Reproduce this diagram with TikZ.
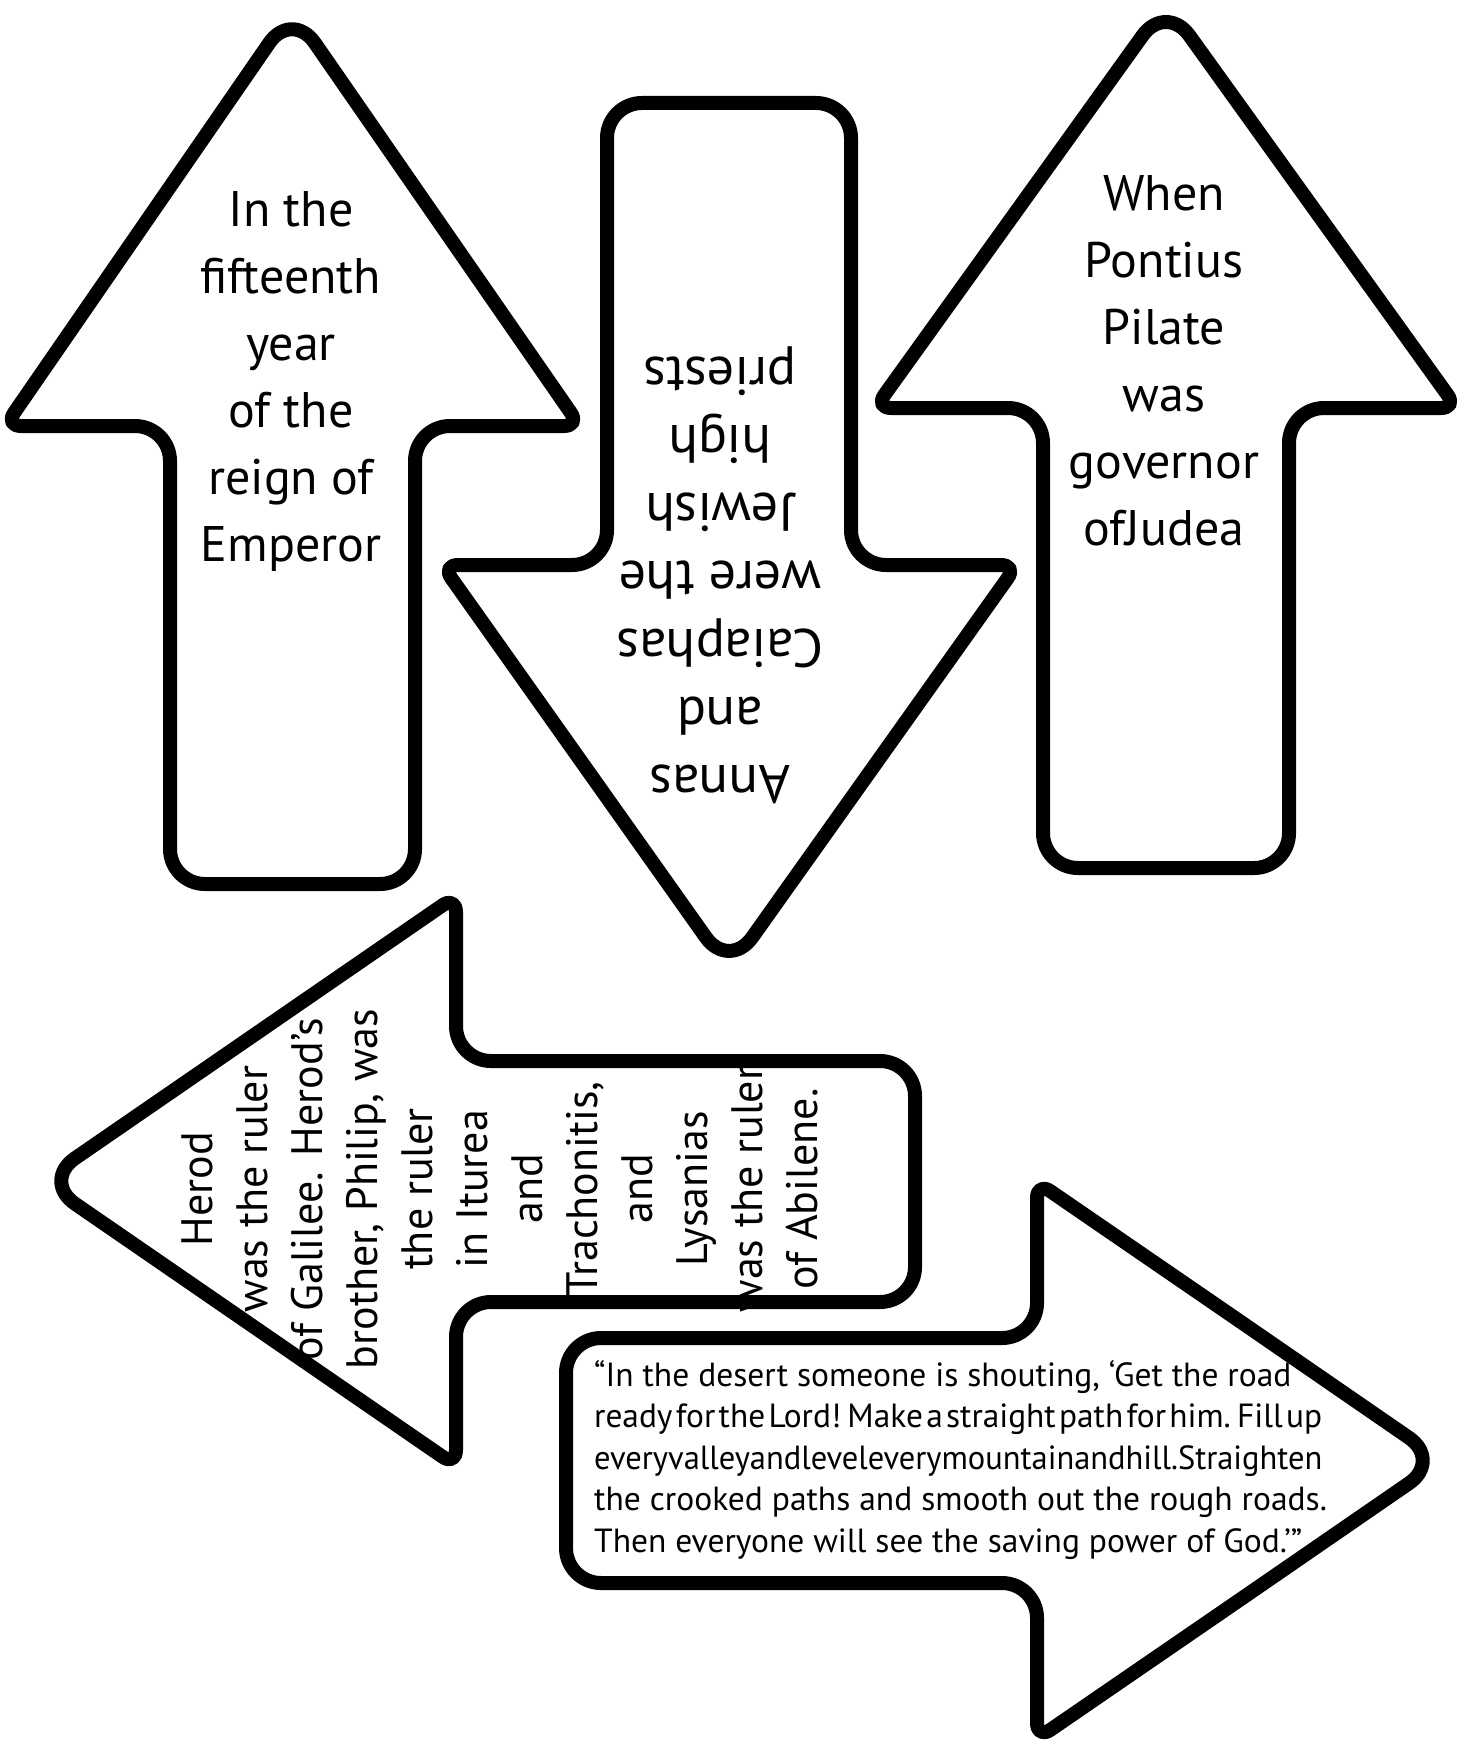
\documentclass[tikz,border=0pt]{standalone}
\usepackage{fontspec}
\setmainfont{PT Sans}
\usepackage{graphicx}
\newcommand\squeezeline[2]{\resizebox{728pt}{\height}{\spaceskip=#1\relax #2}}

\begin{document}
\begin{tikzpicture}[
      x=1pt, y=-1pt,
      every node/.append style={inner sep=0pt},
      arrowbody/.style={draw, line width=14pt, fill=white, line join=round},
      bigtext/.style={align=center, font=\fontsize{50}{67}\selectfont},
      midtext/.style={align=center, font=\fontsize{44}{55}\selectfont},
      quotetext/.style={align=left, font=\fontsize{33.5}{41.5}\selectfont},
    ]
      \useasboundingbox (0,0) rectangle (1463,1742);

      \draw[arrowbody] (292,884) [rounded corners=35] -- (170,884) -- (170,426) -- (88,426)
        [rounded corners=16] -- (5,426) -- (148.5,218) [rounded corners=40] -- (292,10)
        -- (436,218) [rounded corners=16] -- (580,426) -- (497.5,426)
        [rounded corners=35] -- (415,426) -- (415,884) -- cycle;

      \draw[arrowbody] (729,103) [rounded corners=35] -- (851,103) -- (851,565) -- (934,565)
        [rounded corners=16] -- (1017,565) -- (873,767.5) [rounded corners=40] -- (729,970)
        -- (585.5,767.5) [rounded corners=16] -- (442,565) -- (524.5,565)
        [rounded corners=35] -- (607,565) -- (607,103) -- cycle;

      \draw[arrowbody] (1166,868) [rounded corners=35] -- (1043,868) -- (1043,408) -- (959,408)
        [rounded corners=16] -- (875,408) -- (1020.5,205.5) [rounded corners=40] -- (1166,3)
        -- (1311.5,205.5) [rounded corners=16] -- (1457,408) -- (1373,408)
        [rounded corners=35] -- (1289,408) -- (1289,868) -- cycle;

      \draw[arrowbody] (915,1181) [rounded corners=35] -- (915,1061) -- (456,1061) -- (456,978.5)
        [rounded corners=16] -- (456,896) -- (249,1038.5) [rounded corners=40] -- (42,1181)
        -- (249,1323.5) [rounded corners=16] -- (456,1466) -- (456,1384)
        [rounded corners=35] -- (456,1302) -- (915,1302) -- cycle;

      \draw[arrowbody] (566,1460) [rounded corners=35] -- (566,1338) -- (1037,1338) -- (1037,1260)
        [rounded corners=16] -- (1037,1182) -- (1239.5,1321) [rounded corners=40] -- (1442,1460.5)
        -- (1239.5,1600) [rounded corners=16] -- (1037,1739) -- (1037,1661)
        [rounded corners=35] -- (1037,1583) -- (566,1583) -- cycle;

      \node[bigtext] (YR) at (291,381) {In the\\fifteenth\\year\\of the\\reign of\\Emperor};
      \node[bigtext, font=\fontsize{54}{68}\selectfont, rotate=180] (HP) at (720,575)
        {Annas\\and\\Caiaphas\\were the\\Jewish\\high\\priests};
      \node[bigtext] (PP) at (1164,361) {When\\Pontius\\Pilate\\was\\governor\\ofJudea};
      \node[midtext, rotate=90] (HR) at (500,1189)
        {Herod\\was the ruler\\of Galilee. Herod’s\\brother, Philip, was\\the ruler\\in Iturea\\and\\Trachonitis,\\and\\Lysanias\\was the ruler\\of Abilene.};
      \node[quotetext, anchor=west] (QT) at (594,1460)
        {“In the desert someone is shouting, ‘Get the road\\
         \squeezeline{0.1em}{ready for the Lord! Make a straight path for him. Fill up}\\
         \squeezeline{0.02em}{everyvalleyandleveleverymountainandhill.Straighten}\\
         the crooked paths and smooth out the rough roads.\\
         Then everyone will see the saving power of God.’”};
    \end{tikzpicture}
\end{document}
